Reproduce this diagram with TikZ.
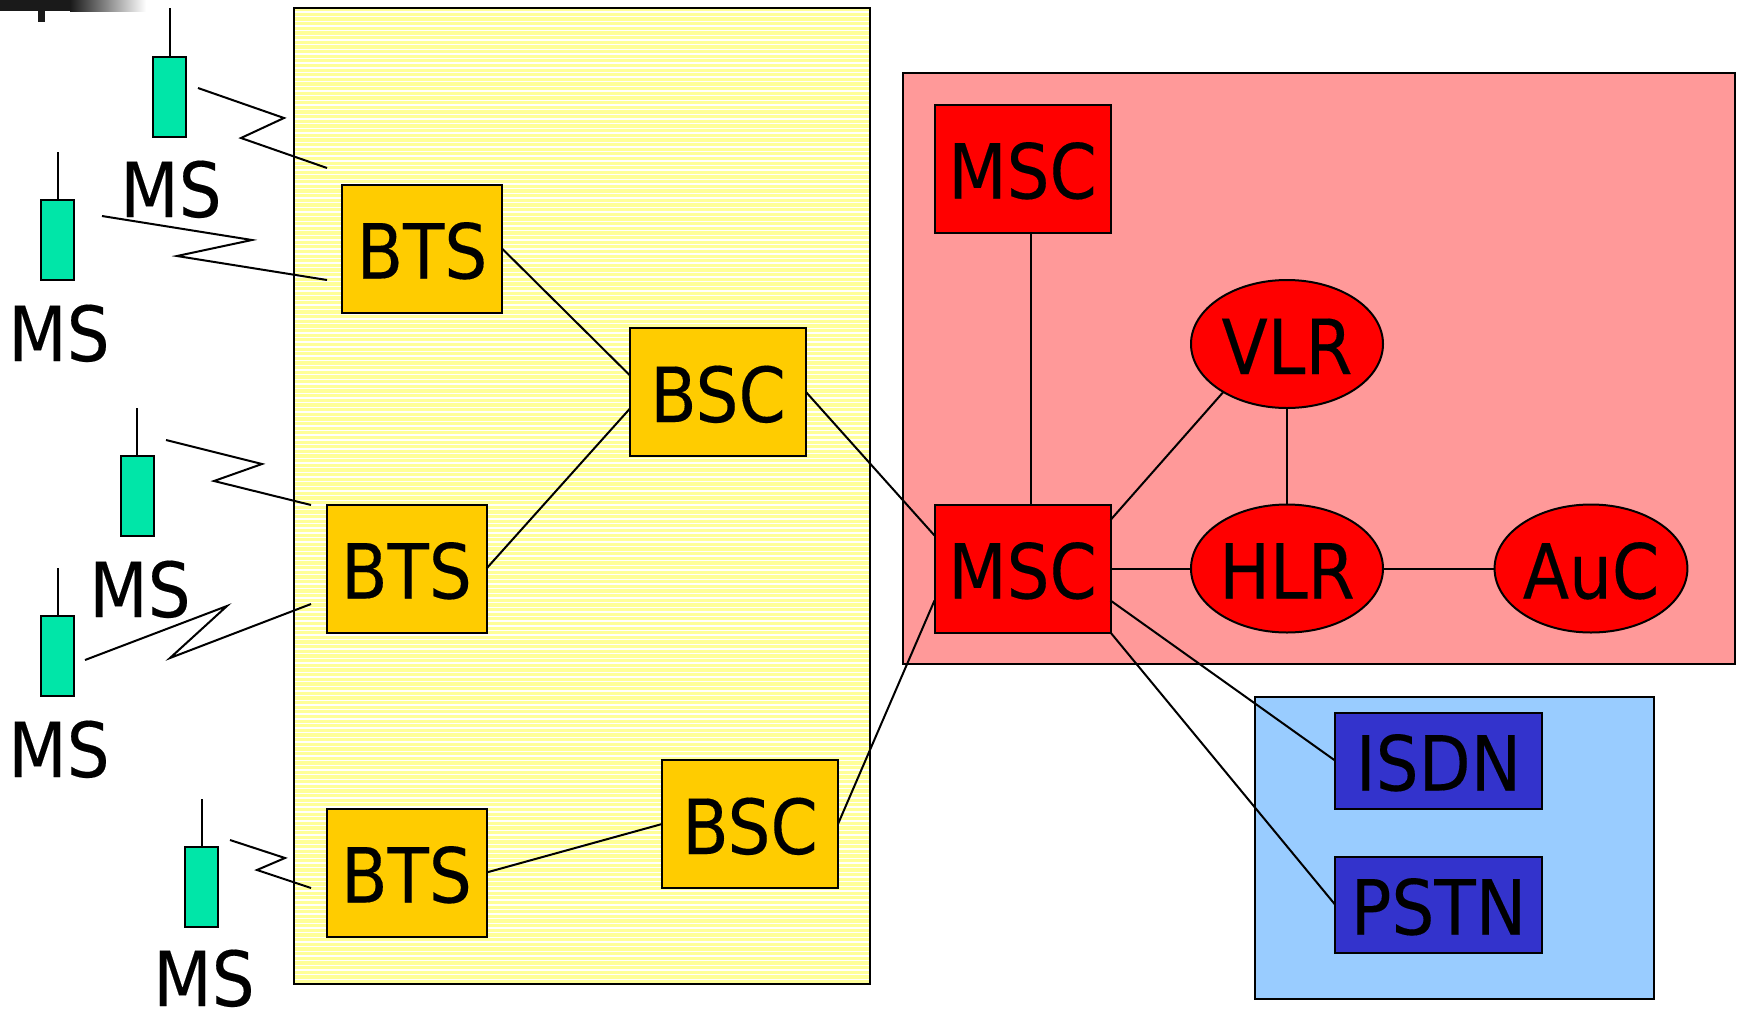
\documentclass[tikz,border=0pt]{standalone}
\usepackage{fontspec}
\setmainfont[FakeStretch=0.89,FakeBold=0.2]{DejaVu Sans}
\usetikzlibrary{shapes.geometric,calc}
\definecolor{gold}{HTML}{FFCC00}
\definecolor{stripe}{HTML}{FFFF99}
\definecolor{redpanel}{HTML}{FF9999}
\definecolor{bluepanel}{HTML}{99CCFF}
\definecolor{darkblue}{HTML}{3333CC}
\definecolor{handset}{HTML}{00E6A8}
\definecolor{barblack}{HTML}{1A1A1A}

\begin{document}
\begin{tikzpicture}[
            x = 0.5pt, y = -0.5pt, % one unit is one pixel of the picture
            line width = 1pt, % line style
            every node/.style = {inner sep=0pt, outer sep=0pt, text height=30pt, text depth=0pt, font=\fontsize{38}{38}\selectfont},
            bts/.style = {draw=black, fill=gold, minimum width=80pt, minimum height=64pt},
            bsc/.style = {draw=black, fill=gold, minimum width=88pt, minimum height=64pt},
            msc/.style = {draw=black, fill=red, minimum width=88pt, minimum height=64pt},
            reg/.style = {shape=ellipse, draw=black, fill=red, minimum width=96pt, minimum height=64pt},
            net/.style = {draw=black, fill=darkblue, minimum width=103.5pt, minimum height=48pt},
            phone/.style = {draw=black, fill=handset, minimum width=16.5pt, minimum height=40pt, text height=0pt}
        ]
\useasboundingbox (0,0) rectangle (1737,1008);

% top left corner
\fill[barblack] (0,0) rectangle (70,11);
\shade[left color=barblack, right color=white] (70,0) rectangle (146,11);
\fill[barblack] (38,11) rectangle (45,22);

% panels
\fill[stripe] (294,8) rectangle (870,984);
\foreach \y in {12,16.65,...,982} {
  \draw[white, line width=0.7pt] (295,\y) -- (869,\y);
}
\draw[black] (294,8) rectangle (870,984);
\draw[black, fill=redpanel] (903,73) rectangle (1735,664);
\draw[black, fill=bluepanel] (1255,697) rectangle (1654,999);

% nodes
\node[bts] (BTSa) at (422,248.5) {BTS};
\node[bts] (BTSb) at (406.5,568.5) {BTS};
\node[bts] (BTSc) at (406.5,872.5) {BTS};
\node[bsc] (BSCa) at (718,392) {BSC};
\node[bsc] (BSCb) at (750,824) {BSC};
\node[msc] (MSCa) at (1022.5,168.5) {MSC};
\node[msc] (MSCb) at (1022.5,568.5) {MSC};
\node[reg] (VLR) at (1287,344) {VLR};
\node[reg] (HLR) at (1287,568.5) {HLR};
\node[reg] (AuC) at (1591,568.5) {AuC};
\node[net] (ISDN) at (1438.5,760.5) {ISDN};
\node[net] (PSTN) at (1438.5,904.5) {PSTN};

% handsets
\node[phone] (MSa) at (169.5,96.5) {};
\node[phone] (MSb) at (57.5,240) {};
\node[phone] (MSc) at (137,496) {};
\node[phone] (MSd) at (57.5,656) {};
\node[phone] (MSe) at (201.5,887) {};
\node (MSaText) at (171,187) {MS};
\node (MSbText) at (59,331) {MS};
\node (MScText) at (140,587) {MS};
\node (MSdText) at (59,747) {MS};
\node (MSeText) at (204,976) {MS};

\coordinate (MSaTop) at (169.5,8);
\coordinate (MSbTop) at (57.5,152);
\coordinate (MScTop) at (137,408);
\coordinate (MSdTop) at (57.5,568);
\coordinate (MSeTop) at (201.5,799);
\foreach \s in {a,b,c,d,e} {
  \draw (MS\s Top) -- (MS\s.north);
}

% radio links
\coordinate (LaS) at (198,88);  \coordinate (LaE) at (327,168);
\coordinate (LbS) at (102,216); \coordinate (LbE) at (327,280);
\coordinate (LcS) at (166,440); \coordinate (LcE) at (311,505);
\coordinate (LdS) at (85,660);  \coordinate (LdE) at (311,604);
\coordinate (LeS) at (230,840); \coordinate (LeE) at (311,888);
\draw (LaS) -- (284,118) -- (241,138) -- (LaE);
\draw (LbS) -- (252,240) -- (177,256) -- (LbE);
\draw (LcS) -- (262,464) -- (214,481) -- (LcE);
\draw (LdS) -- (227,606) -- (170,658) -- (LdE);
\draw (LeS) -- (285,858) -- (257,870) -- (LeE);

% connections
\draw (BTSa.east) -- ($(BSCa.west)+(0,-16.5)$);
\draw (BTSb.east) -- ($(BSCa.west)+(0,16.5)$);
\draw (BTSc.east) -- (BSCb.west);
\draw (BSCa.east) -- ($(MSCb.west)+(0,-33)$);
\draw (BSCb.east) -- ($(MSCb.west)+(0,32)$);
\draw ($(MSCa.south)+(8,0)$) -- ($(MSCb.north)+(8,0)$);
\draw ($(MSCb.east)+(0,-48.5)$) -- (VLR.217);
\draw (VLR) -- (HLR);
\draw (MSCb) -- (HLR);
\draw (HLR) -- (AuC);
\draw ($(MSCb.east)+(0,32)$) -- (ISDN.west);
\draw (MSCb.south east) -- (PSTN.west);
\end{tikzpicture}
\end{document}
